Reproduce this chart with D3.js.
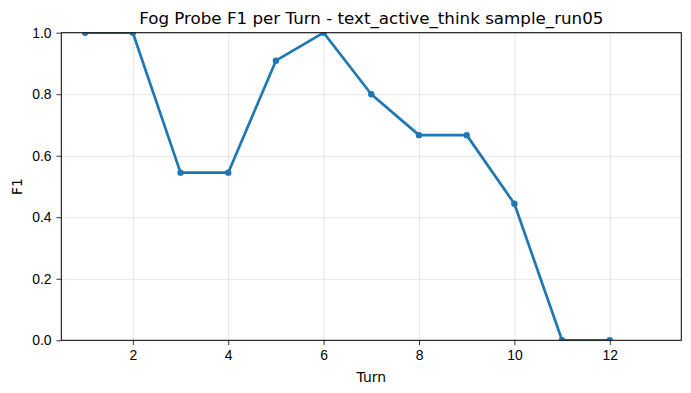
<!DOCTYPE html>
<html lang="en">
<head>
    <meta charset="UTF-8">
    <title>Fog Probe F1 per Turn</title>
    <script src="https://d3js.org/d3.v7.min.js"></script>
    <style>
        body { margin: 0; background: #fff; }
        svg { font-family: "DejaVu Sans", sans-serif; }
        .grid line { stroke: #b0b0b0; stroke-opacity: 0.4; stroke-width: 0.8; }
        .grid .domain { display: none; }
        .axis text { font-size: 13.9px; fill: #000; }
        .axis line, .axis path { stroke: #000; stroke-width: 0.8; }
    </style>
</head>
<body>
    <div id="chart"></div>
    <script>
        // data
        const turns = [1, 2, 3, 4, 5, 6, 7, 8, 9, 10, 11, 12];
        const f1 = [1.0, 1.0, 0.545, 0.545, 0.909, 1.0, 0.8, 0.667, 0.667, 0.444, 0.0, 0.0];
        const xTicks = [2, 4, 6, 8, 10, 12];
        const yTicks = [0, 0.2, 0.4, 0.6, 0.8, 1.0];

        const W = 691, H = 393;
        const margin = {top: 32.7, right: 9.7, bottom: 52.7, left: 61.3};
        const width = W - margin.left - margin.right,
            height = H - margin.top - margin.bottom;

        const x = d3.scaleLinear().domain([0.5, 13.5]).range([0, width]);
        const y = d3.scaleLinear().domain([0, 1]).range([height, 0]);

        const svg = d3.select("#chart").append("svg")
            .attr("width", W)
            .attr("height", H);

        const g = svg.append("g")
            .attr("transform", "translate(" + margin.left + "," + margin.top + ")");

        // grid
        g.append("g")
            .attr("class", "grid")
            .attr("transform", "translate(0," + height + ")")
            .call(d3.axisBottom(x).tickValues(xTicks).tickSize(-height).tickFormat(""));
        g.append("g")
            .attr("class", "grid")
            .call(d3.axisLeft(y).tickValues(yTicks).tickSize(-width).tickFormat(""));

        g.append("clipPath").attr("id", "clip")
            .append("rect").attr("width", width).attr("height", height);

        const pts = turns.map((t, i) => ({t: t, v: f1[i]}));
        const line = d3.line()
            .x(d => x(d.t))
            .y(d => y(d.v));

        const plot = g.append("g").attr("clip-path", "url(#clip)");
        plot.append("path")
            .datum(pts)
            .attr("d", line)
            .attr("fill", "none")
            .attr("stroke", "#1f77b4")
            .attr("stroke-width", 2.7)
            .attr("stroke-linejoin", "round")
            .attr("stroke-linecap", "square");
        plot.selectAll(".dot")
            .data(pts)
            .enter().append("circle")
            .attr("class", "dot")
            .attr("cx", d => x(d.t))
            .attr("cy", d => y(d.v))
            .attr("r", 3.2)
            .attr("fill", "#1f77b4");

        // axes
        const xAxis = g.append("g")
            .attr("class", "axis")
            .attr("transform", "translate(0," + height + ")")
            .call(d3.axisBottom(x).tickValues(xTicks).tickSize(4.9).tickPadding(4.9).tickFormat(d3.format("d")));
        const yAxis = g.append("g")
            .attr("class", "axis")
            .call(d3.axisLeft(y).tickValues(yTicks).tickSize(4.9).tickPadding(4.9).tickFormat(d3.format(".1f")));
        xAxis.select(".domain").remove();
        yAxis.select(".domain").remove();

        // frame
        g.append("rect")
            .attr("width", width)
            .attr("height", height)
            .attr("fill", "none")
            .attr("stroke", "#000")
            .attr("stroke-width", 1);

        svg.append("text")
            .attr("x", margin.left + width / 2)
            .attr("y", 24)
            .attr("text-anchor", "middle")
            .attr("font-size", "16.7px")
            .text("Fog Probe F1 per Turn - text_active_think sample_run05");

        svg.append("text")
            .attr("x", margin.left + width / 2)
            .attr("y", 382)
            .attr("text-anchor", "middle")
            .attr("font-size", "13.9px")
            .text("Turn");

        svg.append("text")
            .attr("transform", "translate(22," + (margin.top + height / 2) + ") rotate(-90)")
            .attr("text-anchor", "middle")
            .attr("font-size", "13.9px")
            .text("F1");
    </script>
</body>
</html>
